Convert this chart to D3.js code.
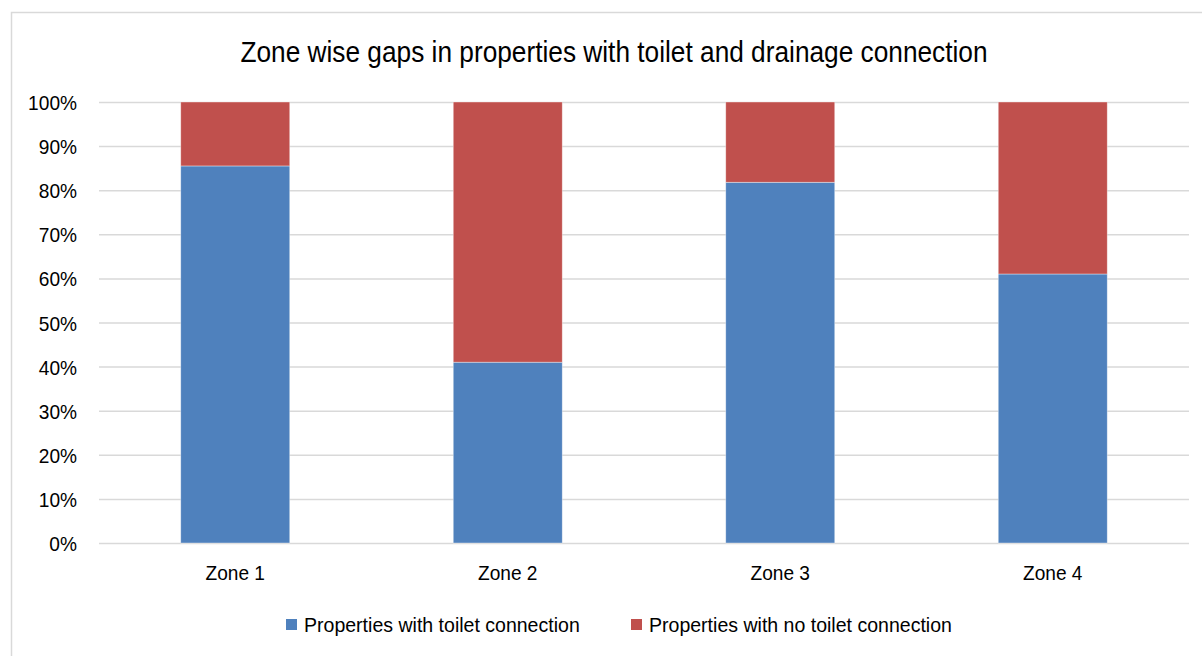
<!DOCTYPE html>
<html>
<head>
<meta charset="utf-8">
<script src="https://cdn.jsdelivr.net/npm/d3@7"></script>
<style>
  body { margin: 0; background: #fff; }
  text { font-family: "Liberation Sans", Arial, sans-serif; fill: #000; }
</style>
</head>
<body>
<div id="chart"></div>
<script>
// data
var zones = ["Zone 1", "Zone 2", "Zone 3", "Zone 4"];
var withToilet = [85.5, 41, 81.8, 61];
var noToilet = [14.5, 59, 18.2, 39];
var seriesNames = ["Properties with toilet connection", "Properties with no toilet connection"];
var seriesColors = ["#4F81BD", "#C0504D"];
var yTicks = [0, 10, 20, 30, 40, 50, 60, 70, 80, 90, 100];

var svgWidth = 1202;
var svgHeight = 656;
var margin = { top: 102, right: 13, bottom: 113, left: 99 };
var width = svgWidth - margin.left - margin.right;
var height = svgHeight - margin.top - margin.bottom;

// text in the picture is a bit narrow, squeeze it horizontally
function narrow(factor) {
  return function(sel) {
    sel.each(function() {
      var w = this.getComputedTextLength();
      d3.select(this).attr("textLength", w * factor).attr("lengthAdjust", "spacingAndGlyphs");
    });
  };
}

var svg = d3.select("#chart")
  .append("svg")
  .attr("width", svgWidth)
  .attr("height", svgHeight);

// chart border (runs off the right and bottom edge)
svg.append("rect")
  .attr("x", 11.5)
  .attr("y", 12.5)
  .attr("width", 1300)
  .attr("height", 800)
  .attr("fill", "none")
  .attr("stroke", "#d9d9d9")
  .attr("stroke-width", 1.5);

var chartGroup = svg.append("g")
  .attr("transform", `translate(${margin.left}, ${margin.top})`);

var x = d3.scaleBand()
  .domain(zones)
  .range([0, width])
  .paddingInner(0.6)
  .paddingOuter(0.3);

var y = d3.scaleLinear()
  .domain([0, 100])
  .range([height, 0]);

// gridlines
chartGroup.append("g")
  .attr("class", "grid")
  .call(d3.axisLeft(y).tickValues(yTicks).tickSize(-width).tickFormat(""))
  .call(g => g.select(".domain").remove())
  .call(g => g.selectAll("line").attr("stroke", "#d9d9d9").attr("stroke-width", 1.5));

// y labels
chartGroup.append("g")
  .call(d3.axisLeft(y).tickValues(yTicks).tickSize(0).tickPadding(22).tickFormat(d => d + "%"))
  .call(g => g.select(".domain").remove())
  .call(g => g.selectAll("text")
    .attr("font-size", "21px")
    .attr("font-family", "Liberation Sans, Arial, sans-serif")
    .attr("fill", "#000")
    .attr("dy", "0.36em")
    .call(narrow(0.91)));

// x labels
chartGroup.append("g")
  .attr("transform", `translate(0, ${height})`)
  .call(d3.axisBottom(x).tickSize(0).tickPadding(22))
  .call(g => g.select(".domain").remove())
  .call(g => g.selectAll("text")
    .attr("font-size", "21px")
    .attr("font-family", "Liberation Sans, Arial, sans-serif")
    .attr("fill", "#000")
    .call(narrow(0.91)));

// stacked bars
var rows = zones.map(function(z, i) {
  return { zone: z, a: withToilet[i], b: noToilet[i] };
});
var stack = d3.stack().keys(["a", "b"]);
var layers = stack(rows);

chartGroup.selectAll(".layer")
  .data(layers)
  .enter()
  .append("g")
  .attr("class", "layer")
  .attr("fill", (d, i) => seriesColors[i])
  .selectAll("rect")
  .data(d => d)
  .enter()
  .append("rect")
  .attr("x", d => x(d.data.zone))
  .attr("y", d => y(d[1]))
  .attr("width", x.bandwidth())
  .attr("height", d => y(d[0]) - y(d[1]))
  .attr("stroke", "#ffffff")
  .attr("stroke-opacity", 0.5)
  .attr("stroke-width", 0.75);

// title
svg.append("text")
  .attr("x", 614)
  .attr("y", 62)
  .attr("text-anchor", "middle")
  .attr("font-size", "30px")
  .text("Zone wise gaps in properties with toilet and drainage connection")
  .call(narrow(0.875));

// legend
var legendX = [286, 631];
var legend = svg.selectAll(".legend")
  .data(seriesNames)
  .enter()
  .append("g")
  .attr("class", "legend")
  .attr("transform", (d, i) => `translate(${legendX[i]}, 619)`);

legend.append("rect")
  .attr("width", 11)
  .attr("height", 11)
  .attr("fill", (d, i) => seriesColors[i]);

legend.append("text")
  .attr("x", 18)
  .attr("y", 13)
  .attr("font-size", "21px")
  .text(d => d)
  .call(narrow(0.93));
</script>
</body>
</html>
